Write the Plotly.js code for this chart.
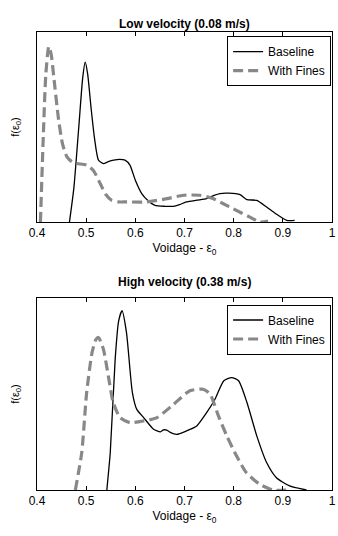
<!DOCTYPE html>
<html><head><meta charset="utf-8">
<script src="https://cdn.plot.ly/plotly-3.0.1.min.js"></script>
<style>html,body{margin:0;padding:0;background:#fff}#plot{width:338px;height:536px}</style>
</head><body><div id="plot"></div>
<script>
// Low velocity (0.08 m/s)
const lowBaseX = [0.466,0.475,0.485,0.493,0.498,0.503,0.510,0.517,0.525,0.535,0.545,0.556,0.568,0.579,0.589,0.600,0.613,0.625,0.640,0.660,0.677,0.690,0.704,0.725,0.745,0.760,0.772,0.790,0.813,0.827,0.847,0.867,0.885,0.908,0.924];
const lowBaseY = [0.0,0.18,0.50,0.76,0.842,0.78,0.60,0.44,0.326,0.308,0.318,0.326,0.330,0.326,0.300,0.220,0.150,0.115,0.088,0.083,0.083,0.092,0.106,0.115,0.123,0.140,0.150,0.152,0.144,0.118,0.114,0.079,0.045,0.009,0.009];
const lowFinesX = [0.407,0.413,0.418,0.424,0.429,0.434,0.444,0.452,0.461,0.471,0.481,0.501,0.515,0.529,0.540,0.552,0.565,0.583,0.623,0.664,0.698,0.731,0.759,0.780,0.799,0.833,0.853,0.870];
const lowFinesY = [0.0,0.466,0.78,0.924,0.88,0.766,0.537,0.41,0.343,0.318,0.308,0.300,0.270,0.200,0.145,0.114,0.106,0.106,0.106,0.123,0.141,0.141,0.123,0.095,0.070,0.026,0.0,0.005];
// High velocity (0.38 m/s)
const highBaseX = [0.542,0.549,0.559,0.566,0.573,0.582,0.594,0.603,0.617,0.637,0.651,0.657,0.664,0.671,0.684,0.704,0.725,0.745,0.762,0.780,0.796,0.810,0.827,0.847,0.867,0.887,0.914,0.948];
const highBaseY = [0.0,0.195,0.682,0.88,0.934,0.82,0.508,0.420,0.377,0.317,0.303,0.313,0.312,0.300,0.290,0.308,0.334,0.403,0.473,0.569,0.586,0.569,0.456,0.282,0.143,0.064,0.021,0.0];
const highFinesX = [0.478,0.491,0.501,0.512,0.520,0.525,0.535,0.545,0.555,0.569,0.589,0.617,0.644,0.678,0.711,0.738,0.752,0.769,0.786,0.806,0.826,0.853,0.880,0.907];
const highFinesY = [0.0,0.195,0.508,0.717,0.785,0.795,0.734,0.595,0.456,0.377,0.351,0.360,0.377,0.447,0.517,0.525,0.500,0.386,0.282,0.177,0.090,0.030,0.0,0.0];
const seriesNames = ['Baseline','With Fines'];
const titles = ['Low velocity (0.08 m/s)','High velocity (0.38 m/s)'];
const xTicks = [0.4,0.5,0.6,0.7,0.8,0.9,1];
const xTickText = ['0.4','0.5','0.6','0.7','0.8','0.9','1'];

const baseLine = {color:'#000', width:1.3};
const finesLine = {color:'#888', width:3.2, dash:'10px,5px'};
const data = [
  {x:lowBaseX, y:lowBaseY, name:seriesNames[0], mode:'lines', line:baseLine, xaxis:'x', yaxis:'y', legend:'legend'},
  {x:lowFinesX, y:lowFinesY, name:seriesNames[1], mode:'lines', line:finesLine, xaxis:'x', yaxis:'y', legend:'legend'},
  {x:highBaseX, y:highBaseY, name:seriesNames[0], mode:'lines', line:baseLine, xaxis:'x2', yaxis:'y2', legend:'legend2'},
  {x:highFinesX, y:highFinesY, name:seriesNames[1], mode:'lines', line:finesLine, xaxis:'x2', yaxis:'y2', legend:'legend2'}
];
data.forEach(d=>{d.line = Object.assign({}, d.line, {shape:'spline', smoothing:0.6});});

const font = {family:'Liberation Sans, Arial, sans-serif', size:11, color:'#000'};
function xax(anchor){
  return {range:[0.4,1], tickvals:xTicks, ticktext:xTickText, ticks:'inside', ticklen:4, tickcolor:'#000',
    showline:true, linecolor:'#000', linewidth:1, mirror:'ticks', showgrid:false, zeroline:false,
    anchor:anchor, tickfont:{family:font.family, size:12, color:'#000'},
    title:{text:'Voidage - ε<sub>0</sub>', font:{family:font.family, size:12, color:'#000'}, standoff:4}};
}
function yax(domain, anchor){
  return {range:[0,1], domain:domain, anchor:anchor, showticklabels:false, ticks:'', showline:true, linecolor:'#000',
    linewidth:1, mirror:true, showgrid:false, zeroline:false,
    title:{text:'f(ε<sub>0</sub>)', font:{family:font.family, size:11, color:'#000'}, standoff:14}};
}
const legendStyle = {bordercolor:'#000', borderwidth:1, bgcolor:'#fff', xanchor:'right', yanchor:'top',
  font:{family:font.family, size:12, color:'#000'}, tracegroupgap:0, itemwidth:30};
const layout = {
  width:338, height:536, margin:{l:37, r:6, t:32, b:46}, paper_bgcolor:'#fff', plot_bgcolor:'#fff', font:font,
  xaxis:xax('y'), yaxis:yax([0.585,1],'x'),
  xaxis2:xax('y2'), yaxis2:yax([0,0.419],'x2'),
  legend:Object.assign({x:0.997, y:0.991}, legendStyle),
  legend2:Object.assign({x:0.997, y:0.405}, legendStyle),
  annotations:[
    {text:'<b>'+titles[0]+'</b>', xref:'paper', yref:'paper', x:0.5, y:1, yshift:17, showarrow:false, font:{family:font.family,size:12,color:'#000'}},
    {text:'<b>'+titles[1]+'</b>', xref:'paper', yref:'paper', x:0.5, y:0.419, yshift:16, showarrow:false, font:{family:font.family,size:12,color:'#000'}}
  ],
  showlegend:true
};
Plotly.newPlot('plot', data, layout, {displayModeBar:false, staticPlot:true});
</script></body></html>
